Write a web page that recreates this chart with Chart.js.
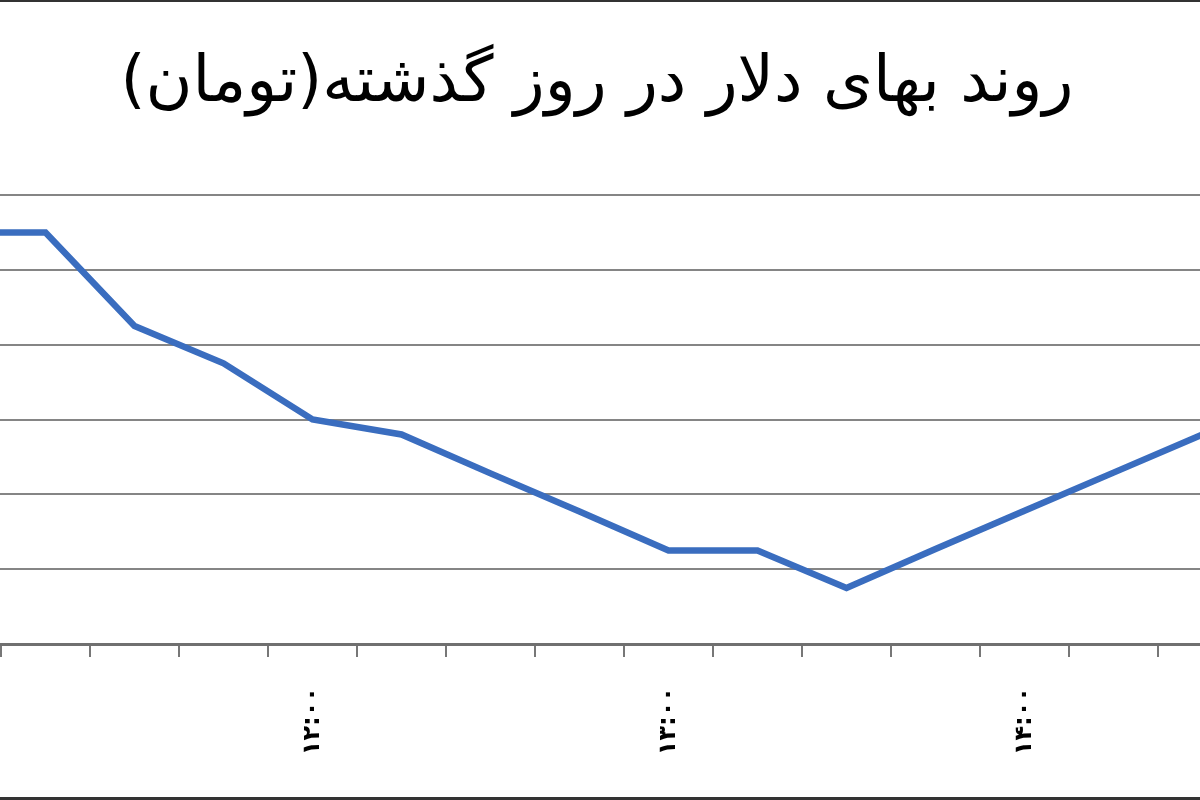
<!DOCTYPE html>
<html lang="fa">
<head>
<meta charset="utf-8">
<script src="https://cdn.jsdelivr.net/npm/chart.js@4.4.1/dist/chart.umd.min.js"></script>
<style>
  html, body { margin: 0; padding: 0; background: #fff; overflow: hidden; }
  body { width: 1200px; height: 800px; position: relative; }
  #wrap { position: absolute; left: -88px; top: 0; width: 1335px; height: 800px; }
  #frame { position: absolute; left: 0; top: 0; width: 1200px; height: 800px; box-sizing: border-box;
           border-top: 2px solid #333; border-bottom: 3px solid #333; pointer-events: none; }
  canvas { direction: rtl; }
</style>
</head>
<body>
<div id="wrap"><canvas id="myLineChart"></canvas></div>
<div id="frame"></div>
<script>
// chart title (Excel-style, drawn centred over the original frame)
const chartTitle = 'روند بهای دلار در روز گذشته(تومان)';

// times of day, every 15 minutes
const times = ['۱۱:۰۰', '۱۱:۱۵', '۱۱:۳۰', '۱۱:۴۵', '۱۲:۰۰', '۱۲:۱۵', '۱۲:۳۰', '۱۲:۴۵',
  '۱۳:۰۰', '۱۳:۱۵', '۱۳:۳۰', '۱۳:۴۵', '۱۴:۰۰', '۱۴:۱۵', '۱۴:۳۰'];

// dollar price in toman
const prices = [3615, 3615, 3602.5, 3597.5, 3590, 3588, 3582.8, 3577.7,
  3572.5, 3572.5, 3567.5, 3572.7, 3577.8, 3582.9, 3588];

// value axis range (labels are cut off in the original picture)
const yMin = 3560;
const yMax = 3620;
const yStep = 10;

// draw the title in the canvas, right-to-left
const titlePlugin = {
  id: 'rtlTitle',
  afterDraw(chart) {
    const ctx = chart.ctx;
    ctx.save();
    ctx.direction = 'rtl';
    ctx.font = '64px "DejaVu Sans"';
    ctx.fillStyle = '#000';
    ctx.textAlign = 'center';
    ctx.textBaseline = 'middle';
    ctx.fillText(chartTitle, 597 + 88, 84);
    ctx.restore();
  }
};

const ctxLine = document.getElementById('myLineChart').getContext('2d');
const myLineChart = new Chart(ctxLine, {
  type: 'line',
  data: {
    labels: times,
    datasets: [{
      label: 'دلار',
      data: prices,
      borderColor: '#3a6dbf',
      borderWidth: 6.5,
      pointRadius: 0,
      tension: 0,
      fill: false
    }]
  },
  options: {
    responsive: true,
    maintainAspectRatio: false,
    animation: false,
    layout: { padding: { top: 195, left: 0, right: 0, bottom: 0 } },
    plugins: {
      legend: { display: false },
      title: { display: false },
      tooltip: { enabled: false }
    },
    scales: {
      x: {
        offset: true,
        afterFit: s => {
          s.height = 156;
          s.paddingLeft = 0;
          s.paddingRight = 0;
        },
        grid: {
          offset: true,
          drawOnChartArea: false,
          drawTicks: true,
          tickLength: 13,
          color: '#777',
          lineWidth: 2
        },
        border: { display: true, color: '#707070', width: 3 },
        ticks: {
          autoSkip: false,
          minRotation: 90,
          maxRotation: 90,
          padding: 30,
          color: '#000',
          font: { family: 'DejaVu Sans', size: 24, weight: 'bold' },
          callback: function(val, i) {
            return i % 4 === 0 ? times[i] : '';
          }
        }
      },
      y: {
        min: yMin,
        max: yMax,
        afterFit: s => { s.width = 0; },
        grid: { color: '#858585', lineWidth: 2, drawTicks: false },
        border: { display: false },
        ticks: { display: false, stepSize: yStep }
      }
    }
  },
  plugins: [titlePlugin]
});
</script>
</body>
</html>
